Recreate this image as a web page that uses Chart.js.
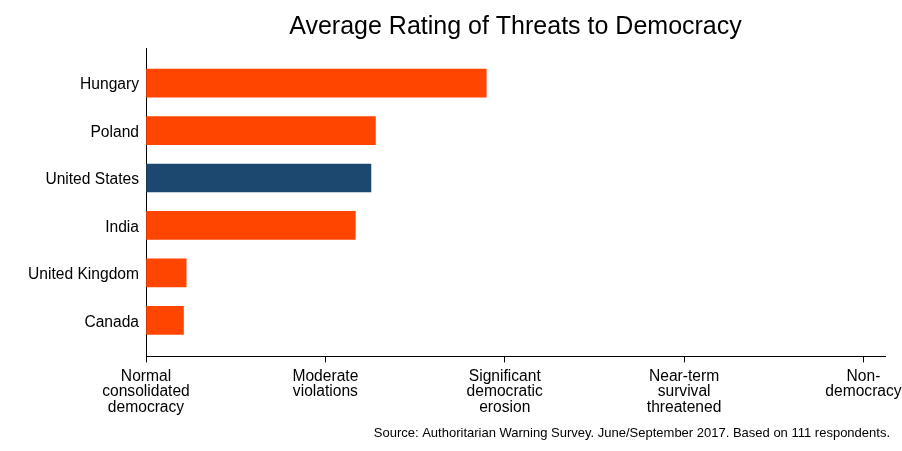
<!DOCTYPE html>
<html>
<head>
<meta charset="utf-8">
<script src="https://cdn.jsdelivr.net/npm/chart.js@4/dist/chart.umd.min.js"></script>
<style>
  html, body { margin: 0; padding: 0; background: #fff; }
  #wrap { width: 902px; height: 451px; }
</style>
</head>
<body>
<div id="wrap"><canvas id="myChart"></canvas></div>
<script>
    // data
    const countries = ['Hungary', 'Poland', 'United States', 'India', 'United Kingdom', 'Canada']
    const ratings = [1.897, 1.279, 1.254, 1.167, 0.224, 0.209]
    const barColors = ['#ff4500', '#ff4500', '#1c4870', '#ff4500', '#ff4500', '#ff4500']
    const scaleLabels = [
      ['Normal', 'consolidated', 'democracy'],
      ['Moderate', 'violations'],
      ['Significant', 'democratic', 'erosion'],
      ['Near-term', 'survival', 'threatened'],
      ['Non-', 'democracy']
    ]

    const font = "'Liberation Sans', Arial, sans-serif"
    Chart.defaults.font.family = font
    Chart.defaults.color = '#000'

    // setup
    const data = {
      datasets: [{
        label: 'Average rating',
        data: ratings.map((v, i) => ({ x: v, y: i })),
        backgroundColor: barColors,
        borderWidth: 0,
        barThickness: 28
      }]
    };

    // config
    const config = {
      type: 'bar',
      data,
      options: {
        indexAxis: 'y',
        responsive: true,
        maintainAspectRatio: false,
        animation: false,
        layout: { padding: { left: 0, right: 12, top: 0, bottom: 0 } },
        plugins: {
          legend: { display: false },
          tooltip: { enabled: false },
          title: {
            display: true,
            text: 'Average Rating of Threats to Democracy',
            fullSize: false,
            color: '#000',
            font: { size: 25, weight: 'normal' },
            padding: { top: 12, bottom: 6 }
          },
          subtitle: {
            display: true,
            position: 'bottom',
            align: 'end',
            text: 'Source: Authoritarian Warning Survey. June/September 2017. Based on 111 respondents.',
            color: '#000',
            font: { size: 13, weight: 'normal' },
            padding: { top: 4, bottom: 10 }
          }
        },
        scales: {
          x: {
            type: 'linear',
            min: 0,
            max: 4.12,
            grid: {
              display: true,
              drawOnChartArea: false,
              drawTicks: true,
              tickLength: 6,
              color: '#000'
            },
            border: { display: true, color: '#000', width: 1 },
            ticks: {
              stepSize: 1,
              includeBounds: false,
              autoSkip: false,
              maxRotation: 0,
              padding: 6,
              color: '#000',
              font: { size: 15.6, lineHeight: 1 },
              callback: (v) => scaleLabels[v] ?? ''
            },
            afterFit: (s) => { s.height = 65; s.paddingRight = 17; }
          },
          y: {
            type: 'linear',
            reverse: true,
            offset: false,
            min: -0.74,
            max: 5.76,
            grid: { display: false, drawTicks: false, offset: false },
            border: { display: true, color: '#000', width: 1 },
            ticks: {
              stepSize: 1,
              includeBounds: false,
              autoSkip: false,
              padding: 7,
              labelOffset: 2,
              color: '#000',
              font: { size: 15.6 },
              callback: (v) => countries[v] ?? ''
            },
            afterFit: (s) => { s.width = 146; }
          }
        }
      }
    };

    // render
    const myChart = new Chart(
      document.getElementById('myChart'),
      config
    );
</script>
</body>
</html>
